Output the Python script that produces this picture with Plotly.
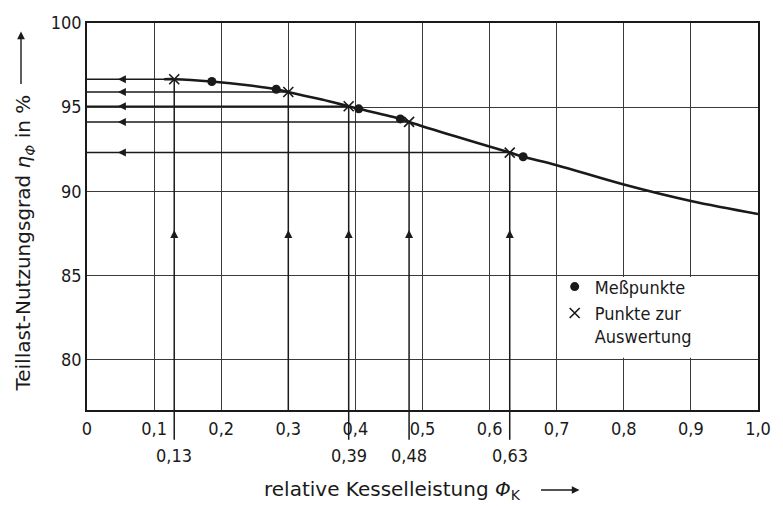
import plotly.graph_objects as go

# ---- data ----
curve_x = [0.115, 0.13, 0.186, 0.24, 0.282, 0.30, 0.35, 0.39, 0.405, 0.467, 0.48, 0.55, 0.63, 0.65, 0.70, 0.80, 0.90, 1.00]
curve_y = [96.66, 96.66, 96.52, 96.30, 96.06, 95.90, 95.45, 95.05, 94.90, 94.30, 94.12, 93.25, 92.30, 92.05, 91.55, 90.40, 89.42, 88.65]

mess_x = [0.186, 0.282, 0.405, 0.467, 0.65]
mess_y = [96.52, 96.06, 94.90, 94.30, 92.05]

ausw_x = [0.13, 0.30, 0.39, 0.48, 0.63]
ausw_y = [96.66, 95.90, 95.05, 94.12, 92.30]

extra_x = [0.13, 0.39, 0.48, 0.63]
extra_labels = ["0,13", "0,39", "0,48", "0,63"]

x_ticks = [0, 0.1, 0.2, 0.3, 0.4, 0.5, 0.6, 0.7, 0.8, 0.9, 1.0]
x_ticktext = ["0", "0,1", "0,2", "0,3", "0,4", "0,5", "0,6", "0,7", "0,8", "0,9", "1,0"]
y_ticks = [80, 85, 90, 95, 100]

Y_MIN, Y_MAX = 77, 100
V_ARROW_Y = 87.7     # tip of upward arrowheads
H_ARROW_X = 0.046    # tip of leftward arrowheads

FONT = "DejaVu Sans Condensed, DejaVu Sans, Open Sans, sans-serif"
TFONT = "DejaVu Sans, Open Sans, sans-serif"
INK = "#1a1a1a"
GRID = "#3a3a3a"

fig = go.Figure()

fig.add_trace(go.Scatter(x=curve_x, y=curve_y, mode="lines", line=dict(color=INK, width=2.6, shape="spline"),
                         showlegend=False, hoverinfo="skip"))
fig.add_trace(go.Scatter(x=mess_x, y=mess_y, mode="markers", name="Meßpunkte",
                         marker=dict(symbol="circle", size=9, color=INK)))
fig.add_trace(go.Scatter(x=ausw_x, y=ausw_y, mode="markers", name="Punkte zur<br>Auswertung",
                         marker=dict(symbol="x-thin", size=10, color=INK, line=dict(width=1.6, color=INK))))
# arrowheads
fig.add_trace(go.Scatter(x=ausw_x, y=[V_ARROW_Y] * len(ausw_x), mode="markers", showlegend=False, hoverinfo="skip",
                         marker=dict(symbol="arrow-up", size=8, color=INK)))
fig.add_trace(go.Scatter(x=[H_ARROW_X] * len(ausw_y), y=ausw_y, mode="markers", showlegend=False, hoverinfo="skip",
                         marker=dict(symbol="arrow-left", size=8, color=INK)))

shapes = []
# white cell behind legend
shapes.append(dict(type="rect", xref="x", yref="y", x0=0.703, x1=0.997, y0=80.1, y1=84.9,
                   fillcolor="white", line=dict(width=0), layer="between"))
for cx, cy in zip(ausw_x, ausw_y):
    shapes.append(dict(type="line", xref="x", yref="y", x0=0, x1=cx, y0=cy, y1=cy,
                       line=dict(color=INK, width=1.5), layer="between"))
    shapes.append(dict(type="line", xref="x", yref="y", x0=cx, x1=cx, y0=Y_MIN, y1=cy,
                       line=dict(color=INK, width=1.5), layer="between"))
for ex in extra_x:
    shapes.append(dict(type="line", xref="x", yref="paper", x0=ex, x1=ex, y0=0, y1=-0.077,
                       line=dict(color=INK, width=1.5)))

annotations = []
for ex, lab in zip(extra_x, extra_labels):
    annotations.append(dict(x=ex, xref="x", y=0, yref="paper", yshift=-45, text=lab, showarrow=False,
                            font=dict(family=FONT, size=18, color=INK), xanchor="center", yanchor="middle"))
# axis titles
annotations.append(dict(x=0, xref="paper", xshift=-63, y=0.43, yref="paper", textangle=-90,
                        text="Teillast-Nutzungsgrad <i>η</i><sub><i>Φ</i></sub> in %", showarrow=False,
                        font=dict(family=TFONT, size=20, color=INK), xanchor="center", yanchor="middle"))
annotations.append(dict(x=0.455, xref="paper", y=0, yref="paper", yshift=-80,
                        text="relative Kesselleistung <i>Φ</i><sub>K</sub>", showarrow=False,
                        font=dict(family=TFONT, size=20, color=INK), xanchor="center", yanchor="middle"))
# title arrows
annotations.append(dict(x=0.734, xref="paper", y=0, yref="paper", yshift=-80, text="", showarrow=True,
                        ax=-40, ay=0, arrowhead=2, arrowsize=1.1, arrowwidth=1.4, arrowcolor=INK))
annotations.append(dict(x=0, xref="paper", xshift=-66, y=0.978, yref="paper", text="", showarrow=True,
                        ax=0, ay=54, arrowhead=2, arrowsize=1.1, arrowwidth=1.4, arrowcolor=INK))

fig.update_layout(
    width=783, height=506,
    margin=dict(l=87, r=17, t=19, b=96),
    paper_bgcolor="white", plot_bgcolor="white",
    font=dict(family=FONT, size=18, color=INK),
    shapes=shapes, annotations=annotations,
    legend=dict(x=0.697, y=0.366, xanchor="left", yanchor="top", bgcolor="rgba(0,0,0,0)",
                font=dict(family=FONT, size=18, color=INK), valign="top", tracegroupgap=0),
    xaxis=dict(range=[0, 1.0], tickvals=x_ticks, ticktext=x_ticktext, showgrid=True, gridcolor=GRID, gridwidth=1.2,
               showline=True, linecolor=INK, linewidth=1.6, mirror=True, zeroline=False, ticks="",
               ticklabelstandoff=2, tickfont=dict(family=FONT, size=18, color=INK)),
    yaxis=dict(range=[Y_MIN, Y_MAX], tickvals=y_ticks, showgrid=True, gridcolor=GRID, gridwidth=1.2,
               showline=True, linecolor=INK, linewidth=1.6, mirror=True, zeroline=False, ticks="",
               tickfont=dict(family=FONT, size=18, color=INK)),
)

fig.write_html("out.html")
